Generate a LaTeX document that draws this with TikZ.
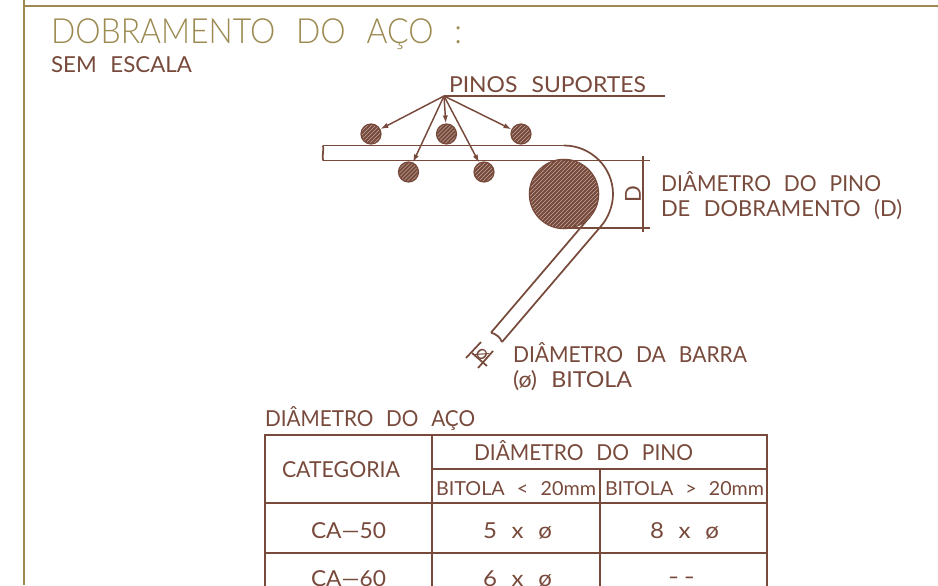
\documentclass[tikz,border=0pt]{standalone}
\usepackage{graphicx}
\usepackage{fontspec}
\setmainfont[WordSpace=2.4]{Lato}
\newfontfamily\ttlfont[WordSpace=2.4]{Lato Light}
\usetikzlibrary{arrows.meta}
\definecolor{gold}{HTML}{9C8A50}
\definecolor{brown}{HTML}{784A3C}
\definecolor{hatchc}{HTML}{C0A89E}
\newlength\pxu \setlength\pxu{0.75pt}
\newcommand{\fitw}[2]{\resizebox{#1\pxu}{\height}{#2}}
\tikzset{
  txt/.style={anchor=base west,inner sep=0pt,outer sep=0pt,text=brown,font=\fontsize{16.5}{18}\selectfont},
  small/.style={txt,font=\fontsize{14.5}{16}\selectfont},
  ttl/.style={txt,text=gold,font=\ttlfont\fontsize{26}{28}\selectfont},
  ln/.style={draw=brown,line width=1.3pt},
  frame/.style={draw=gold,line width=1.5pt},
  hatchfill/.style={fill=brown,path picture={
    \foreach \k in {-66,-63,...,30}{
      \draw[hatchc,line width=.35pt] ([xshift=\k*1pt,yshift=-30pt]path picture bounding box.center) -- ++(60pt,60pt);
    }}},
  pin/.style={circle,inner sep=0pt,minimum size=15pt,draw=brown,line width=.9pt,hatchfill},
  bigpin/.style={pin,minimum size=52pt},
  lead/.style={ln,line width=1.1pt,-{Latex[length=6pt,width=4pt]}}
}
\begin{document}
\begin{tikzpicture}[x=0.75pt,y=-0.75pt]
\useasboundingbox (0,0) rectangle (938,585);
\clip (0,0) rectangle (938,585);
\fill[white] (0,0) rectangle (938,585);
% frame
\draw[frame] (24,0) -- (24,585);
\draw[frame] (24,6) -- (938,6);
% headings
\node[ttl] (title) at (51,44) {\fitw{411}{DOBRAMENTO DO AÇO :}};
\node[txt] (scale) at (51,72.5) {\fitw{141}{SEM ESCALA}};
\node[txt] (ps) at (449,93) {\fitw{197}{PINOS SUPORTES}};
% bar
\draw[ln] (323,145.5) .. controls (324,150) and (322,155) .. (323,160.5);
\draw[ln] (323,145.5) -- (564,145.5);
\draw[ln] (564,145.5) .. controls (591,145.5) and (613,167.5) .. (613,194) .. controls (613,206) and (608,218) .. (601.3,225.8) -- (502,342);
\draw[ln] (323,160.5) -- (564,160.5);
\draw[ln] (491,332.6) -- (590.2,216.4);
\draw[ln] (491,332.6) .. controls (496,334) and (500,337) .. (502,342);
% pins
\node[bigpin] (bp) at (564,194) {};
\node[pin] (p1) at (371,134) {};
\node[pin] (p2) at (446.5,134) {};
\node[pin] (p3) at (521,134) {};
\node[pin] (p4) at (408.5,172) {};
\node[pin] (p5) at (484,172) {};
% leaders
\coordinate (apex) at (444,96);
\coordinate (ruleend) at (665,96);
\draw[ln] (apex) -- (ruleend);
\foreach \pp in {p1,p2,p3,p4,p5}{\draw[lead] (apex) -- (\pp);}
% D dimension
\coordinate (e1a) at (564,160.5); \coordinate (e1b) at (650,160.5);
\coordinate (e2a) at (564,228); \coordinate (e2b) at (650,228);
\coordinate (d1) at (643,156); \coordinate (d2) at (643,232);
\draw[ln] (e1a) -- (e1b);
\draw[ln] (e2a) -- (e2b);
\draw[ln] (d1) -- (d2);
\node[inner sep=0pt,text=brown,rotate=90,font=\fontsize{16.5}{18}\selectfont] (dlab) at (633,194) {D};
\node[txt] (l1) at (661,191) {\fitw{220}{DIÂMETRO DO PINO}};
\node[txt] (l2) at (661,216) {\fitw{241}{DE DOBRAMENTO (D)}};
% bar dimension
\coordinate (a1) at (466,358); \coordinate (a2) at (481,342);
\coordinate (c1) at (478,368); \coordinate (c2) at (493,351);
\coordinate (m1) at (472,353); \coordinate (m2) at (487,366);
\draw[ln] (a1) -- (a2);
\draw[ln] (c1) -- (c2);
\draw[ln] (m1) -- (m2);
\node[inner sep=0pt,text=brown,rotate=-49,font=\fontsize{15}{16}\selectfont] (phi) at (482,354) {ø};
\node[txt] (l3) at (513,362) {\fitw{234}{DIÂMETRO DA BARRA}};
\node[txt] (l4) at (513,387) {\fitw{119}{(ø) BITOLA}};
% table
\node[txt] (t0) at (265,426) {\fitw{210}{DIÂMETRO DO AÇO}};
\draw[ln] (265,435) rectangle (767,620);
\draw[ln] (432,435) -- (432,620);
\draw[ln] (600,469) -- (600,620);
\draw[ln] (432,469) -- (767,469);
\draw[ln] (265,503) -- (767,503);
\draw[ln] (265,553) -- (767,553);
\node[txt] (h1) at (474,460) {\fitw{219}{DIÂMETRO DO PINO}};
\node[txt] (h2) at (282,477) {\fitw{118}{CATEGORIA}};
\node[small] (h3) at (436,495) {\fitw{160}{BITOLA < 20mm}};
\node[small] (h4) at (605,495) {\fitw{159}{BITOLA > 20mm}};
\node[txt] (r1) at (311,538) {\fitw{75}{CA—50}};
\node[txt] (r2) at (483,538) {\fitw{69}{5 x ø}};
\node[txt] (r3) at (650,538) {\fitw{69}{8 x ø}};
\node[txt] (r4) at (311,586) {\fitw{75}{CA—60}};
\node[txt] (r5) at (483,586) {\fitw{69}{6 x ø}};
\node[txt] (r6) at (668,584) {\fitw{27}{{-}\,{-}}};
\end{tikzpicture}
\end{document}
